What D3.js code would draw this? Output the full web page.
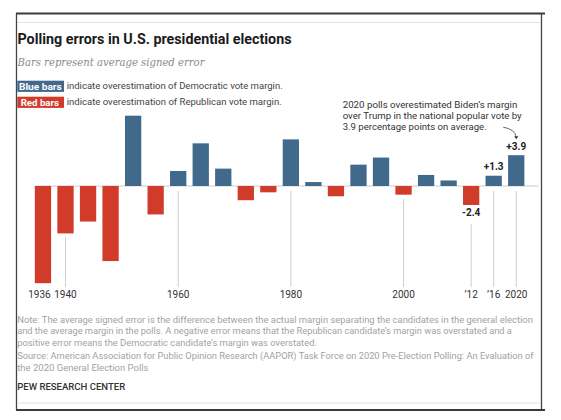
<!DOCTYPE html>
<html><head><meta charset="utf-8">
<script src="https://cdn.jsdelivr.net/npm/d3@7"></script>
<style>body{margin:0;background:#fff} svg{display:block}</style>
</head><body><svg id="c" width="561" height="420"></svg>
<script>
// ---- data ----
const years = [1936,1940,1944,1948,1952,1956,1960,1964,1968,1972,1976,1980,1984,1988,1992,1996,2000,2004,2008,2012,2016,2020];
const errors = [-12.3,-6.0,-4.5,-9.5,8.9,-3.6,1.9,5.4,2.2,-1.8,-0.8,5.9,0.5,-1.3,2.7,3.6,-1.1,1.4,0.7,-2.4,1.3,3.9];
const tickYears = [1936,1940,1960,1980,2000,2012,2016,2020];
const tickLabels = ["1936","1940","1960","1980","2000","\u201912","\u201916","2020"];
const labeledYears = [2012,2016,2020];
const valueLabels = ["-2.4","+1.3","+3.9"];
const title = "Polling errors in U.S. presidential elections";
const subtitle = "Bars represent average signed error";
const legendKeys = ["Blue bars","Red bars"];
const legendTexts = ["indicate overestimation of Democratic vote margin.","indicate overestimation of Republican vote margin."];
const annotation = ["2020 polls overestimated Biden\u2019s margin","over Trump in the national popular vote by","3.9 percentage points on average."];
const notes = [
 "Note: The average signed error is the difference between the actual margin separating the candidates in the general election",
 "and the average margin in the polls. A negative error means that the Republican candidate\u2019s margin was overstated and a",
 "positive error means the Democratic candidate\u2019s margin was overstated.",
 "Source: American Association for Public Opinion Research (AAPOR) Task Force on 2020 Pre-Election Polling: An Evaluation of",
 "the 2020 General Election Polls"
];
const credit = "PEW RESEARCH CENTER";

// ---- style ----
const BLUE = "#41698b", RED = "#d13c2a";
const SANS = "Roboto, 'Liberation Sans', Arial, sans-serif";
const svg = d3.select("#c");
function fit(sel, w){ return sel.attr("textLength", w).attr("lengthAdjust","spacingAndGlyphs"); }

// frame
svg.append("line").attr("x1",16).attr("x2",545).attr("y1",13.5).attr("y2",13.5).attr("stroke","#3a3a3a").attr("stroke-width",2);
svg.append("line").attr("x1",17).attr("x2",541).attr("y1",22.5).attr("y2",22.5).attr("stroke","#e2e2e2").attr("stroke-width",1.2);
svg.append("line").attr("x1",16.5).attr("x2",16.5).attr("y1",13).attr("y2",410).attr("stroke","#444").attr("stroke-width",1.3);
svg.append("line").attr("x1",541.5).attr("x2",541.5).attr("y1",13).attr("y2",410).attr("stroke","#444").attr("stroke-width",1.3);
svg.append("line").attr("x1",17).attr("x2",541).attr("y1",403).attr("y2",403).attr("stroke","#e2e2e2").attr("stroke-width",1.2);
svg.append("line").attr("x1",16).attr("x2",545).attr("y1",410).attr("y2",410).attr("stroke","#3a3a3a").attr("stroke-width",2);

// title & subtitle
fit(svg.append("text").attr("x",17.5).attr("y",43.5).attr("font-family",SANS).attr("font-weight",700)
  .attr("font-size",14).attr("fill","#1b1b1b").text(title), 274);
fit(svg.append("text").attr("x",17.5).attr("y",66).attr("font-family","'DejaVu Serif', 'Liberation Serif', Georgia, serif")
  .attr("font-style","italic").attr("font-size",11.5).attr("fill","#8a8a8a").text(subtitle), 187);

// legend
const legColors = [BLUE, RED];
const legTop = [80.7, 96.7];
const keyW = [42.7, 38.3];
legendKeys.forEach((k,i)=>{
  svg.append("rect").attr("x",17.3).attr("y",legTop[i]).attr("width",46.7).attr("height",11.2).attr("fill",legColors[i]);
  fit(svg.append("text").attr("x",i===0?19:20.7).attr("y",legTop[i]+8.8).attr("font-family",SANS).attr("font-weight",700)
    .attr("font-size",9.3).attr("fill","#fff").text(k), keyW[i]);
  fit(svg.append("text").attr("x",66.7).attr("y",legTop[i]+8.6).attr("font-family",SANS)
    .attr("font-size",9.5).attr("fill","#444").text(legendTexts[i]), i===0?216:215);
});

// scales
const x = d3.scaleBand().domain(years).range([31.7, 527.5]).paddingInner(0.277).paddingOuter(0.1385);
const y = d3.scaleLinear().domain([-13, 10]).range([186 + 13*7.9, 186 - 10*7.9]);
const bw = x.bandwidth();
const axisY = 287;

// tick lines
const g = svg.append("g");
tickYears.forEach((yr,i)=>{
  const v = errors[years.indexOf(yr)];
  let start;
  if (labeledYears.includes(yr) && v < 0) start = y(v) + 19;
  else start = Math.max(y(0), y(v)) + (v < 0 ? 4 : 5);
  if (start < axisY) {
    g.append("line").attr("x1",x(yr)+bw/2).attr("x2",x(yr)+bw/2).attr("y1",start).attr("y2",axisY)
      .attr("stroke","#cfcfcf").attr("stroke-width",1);
  }
});

// zero line
g.append("line").attr("x1",x(years[0])).attr("x2",538.5).attr("y1",y(0)).attr("y2",y(0))
  .attr("stroke","#cccccc").attr("stroke-width",1);

// bars
g.selectAll("rect.bar").data(years).join("rect").attr("class","bar")
  .attr("x",d=>x(d)).attr("width",bw)
  .attr("y",(d,i)=>Math.min(y(0), y(errors[i])))
  .attr("height",(d,i)=>Math.abs(y(errors[i])-y(0)))
  .attr("fill",(d,i)=>errors[i] >= 0 ? BLUE : RED);

// x-axis labels
tickYears.forEach((yr,i)=>{
  g.append("text").attr("x",x(yr)+bw/2 + (i===0?-3.5:0)).attr("y",298.3).attr("text-anchor","middle")
    .attr("font-family",SANS).attr("font-size",10).attr("fill","#333").text(tickLabels[i]);
});

// value labels
labeledYears.forEach((yr,i)=>{
  const v = errors[years.indexOf(yr)];
  g.append("text").attr("x",x(yr)+bw/2).attr("y", v>=0 ? y(v)-5.3 : y(v)+11.4).attr("text-anchor","middle")
    .attr("font-family",SANS).attr("font-weight",700).attr("font-size",10).attr("fill","#222").text(valueLabels[i]);
});

// annotation
const annW = [174.6, 179, 144];
annotation.forEach((t,i)=>{
  fit(svg.append("text").attr("x",342.7).attr("y",108.3 + i*10.9).attr("font-family",SANS)
    .attr("font-size",9.8).attr("fill","#333").text(t), annW[i]);
});
const ax = x(2020)+bw/2, ay = y(3.9) - 17;
const p = d3.path();
p.moveTo(ax-13, ay-11);
p.quadraticCurveTo(ax-1, ay-9, ax, ay-1);
svg.append("path").attr("d",p.toString()).attr("fill","none").attr("stroke","#555").attr("stroke-width",0.9);
svg.append("path").attr("d",`M${ax-2},${ay-2}L${ax+2},${ay-2}L${ax},${ay+1}Z`).attr("fill","#333");

// notes
const noteW = [515.7, 494.7, 299.7, 516.3, 131.3];
notes.forEach((t,i)=>{
  fit(svg.append("text").attr("x",17.2).attr("y",i<3 ? 323.3 + i*11.1 : 359.3 + (i-3)*11.4).attr("font-family",SANS)
    .attr("font-size",9).attr("fill","#a2a2a2").text(t), noteW[i]);
});
fit(svg.append("text").attr("x",17.2).attr("y",390).attr("font-family",SANS).attr("font-weight",500)
  .attr("font-size",9.6).attr("fill","#333").text(credit), 108);
</script></body></html>
